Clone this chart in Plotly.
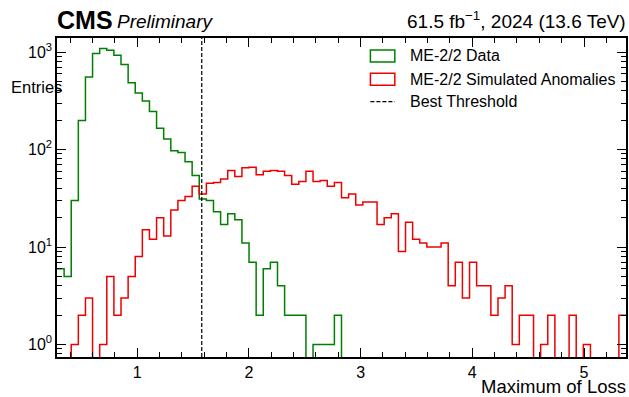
import numpy as np
import plotly.graph_objects as go

# ---- data -------------------------------------------------------------
X_MIN = 0.282
X_MAX = 5.376
N_BINS = 80
THRESHOLD = 1.578

data_counts = [6, 5, 30, 198, 555, 965, 1090, 1045, 925, 745,
               485, 381, 314, 246, 165, 128, 97, 93, 75, 54,
               31, 30, 23, 17, 22, 19, 11, 7, 2, 6,
               7, 4, 2, 2, 2, 0, 1, 1, 1, 2,
               0, 0, 0, 0, 0, 0, 0, 0, 0, 0,
               0, 0, 0, 0, 0, 0, 0, 0, 0, 0,
               0, 0, 0, 0, 0, 0, 0, 0, 0, 0,
               0, 0, 0, 0, 0, 0, 0, 0, 0, 0]

anomaly_counts = [0, 0, 1, 2, 3, 0, 1, 5, 2, 3,
                  5, 8, 15, 12, 20, 13, 24, 30, 33, 42,
                  35, 45, 46, 50, 61, 53, 65, 66, 55, 60,
                  61, 60, 54, 44, 47, 60, 47, 48, 42, 46,
                  32, 35, 27, 29, 29, 17, 20, 22, 9, 18,
                  12, 11, 10, 10, 11, 4, 7, 3, 7, 4,
                  4, 2, 3, 4, 1, 2, 2, 0, 1, 2,
                  0, 0, 2, 0, 1, 0, 0, 0, 0, 2]

series_names = ["ME-2/2 Data", "ME-2/2 Simulated Anomalies", "Best Threshold"]
x_tick_vals = [1, 2, 3, 4, 5]
y_tick_vals = [1, 10, 100, 1000]
y_tick_text = ["10<sup>0</sup>", "10<sup>1</sup>", "10<sup>2</sup>", "10<sup>3</sup>"]

# ---- figure -----------------------------------------------------------
W, H = 629, 397
L, R, T, B = 57, 1, 38, 40
pw, ph = W - L - R, H - T - B

def px2paper_x(px):
    return (px - L) / pw

def py2paper_y(py):
    return (H - B - py) / ph

edges = np.linspace(X_MIN, X_MAX, N_BINS + 1)
FLOOR = 1e-2  # empty bins drop below the axis

def step_trace(counts, color):
    vals = [c if c > 0 else FLOOR for c in counts]
    return go.Scatter(x=list(edges), y=vals + [vals[-1]], mode="lines",
                      line=dict(color=color, width=1.5, shape="hv"),
                      showlegend=False, hoverinfo="skip")

GREEN = "#008000"
RED = "#ee0000"

fig = go.Figure()
fig.add_trace(step_trace(data_counts, GREEN))
fig.add_trace(step_trace(anomaly_counts, RED))

FONT = "Liberation Sans, Arial, Helvetica, sans-serif"

minor_y = [m * 10 ** e for e in range(-1, 4) for m in range(2, 10)]

fig.update_layout(
    width=W, height=H,
    margin=dict(l=L, r=R, t=T, b=B),
    paper_bgcolor="white", plot_bgcolor="white",
    font=dict(family=FONT, color="black", size=16),
    xaxis=dict(range=[X_MIN, X_MAX], showgrid=False, zeroline=False,
               showline=True, linecolor="black", linewidth=1.5, mirror="allticks",
               ticks="inside", ticklen=9, tickwidth=1, tickcolor="black",
               tickmode="array", tickvals=x_tick_vals,
               tickfont=dict(size=16),
               minor=dict(ticks="inside", ticklen=5, tickwidth=1, tickcolor="black",
                          dtick=0.2, tick0=0, showgrid=False)),
    yaxis=dict(type="log", range=[-0.128, 3.144], showgrid=False, zeroline=False,
               showline=True, linecolor="black", linewidth=1.5, mirror="allticks",
               ticks="inside", ticklen=9, tickwidth=1, tickcolor="black",
               tickmode="array", tickvals=y_tick_vals, ticktext=y_tick_text,
               tickfont=dict(size=16),
               minor=dict(ticks="inside", ticklen=5, tickwidth=1, tickcolor="black",
                          tickmode="array", tickvals=minor_y, showgrid=False)),
    showlegend=False,
)

# threshold line
fig.add_shape(type="line", xref="x", yref="paper", x0=THRESHOLD, x1=THRESHOLD,
              y0=0, y1=1, line=dict(color="black", width=1.2, dash="4px,2px"))

# manual legend
lx0, lx1 = px2paper_x(371.5), px2paper_x(396)
fig.add_shape(type="rect", xref="paper", yref="paper", x0=lx0, x1=lx1,
              y0=py2paper_y(62), y1=py2paper_y(50), line=dict(color=GREEN, width=1.5))
fig.add_shape(type="rect", xref="paper", yref="paper", x0=lx0, x1=lx1,
              y0=py2paper_y(85.3), y1=py2paper_y(73.3), line=dict(color=RED, width=1.5))
fig.add_shape(type="line", xref="paper", yref="paper", x0=lx0, x1=lx1,
              y0=py2paper_y(101.7), y1=py2paper_y(101.7),
              line=dict(color="black", width=1.2, dash="4px,2px"))
for name, yc in zip(series_names, [56, 79.3, 101.7]):
    fig.add_annotation(xref="paper", yref="paper", x=px2paper_x(409), y=py2paper_y(yc),
                       text=name, showarrow=False, xanchor="left", yanchor="middle",
                       font=dict(size=16))

# header texts
fig.add_annotation(xref="paper", yref="paper", x=px2paper_x(55), y=py2paper_y(20),
                   text="<b>CMS</b>", showarrow=False, xanchor="left", yanchor="middle",
                   font=dict(size=25))
fig.add_annotation(xref="paper", yref="paper", x=px2paper_x(115), y=py2paper_y(21),
                   text="<i>Preliminary</i>", showarrow=False, xanchor="left", yanchor="middle",
                   font=dict(size=19))
fig.add_annotation(xref="paper", yref="paper", x=px2paper_x(630), y=py2paper_y(20),
                   text="61.5 fb<sup>\u22121</sup>, 2024 (13.6 TeV)", showarrow=False,
                   xanchor="right", yanchor="middle", font=dict(size=19))

# axis titles
fig.add_annotation(xref="paper", yref="paper", x=px2paper_x(630), y=py2paper_y(386),
                   text="Maximum of Loss", showarrow=False, xanchor="right", yanchor="middle",
                   font=dict(size=18.5))
fig.add_annotation(xref="paper", yref="paper", x=px2paper_x(9), y=py2paper_y(87),
                   text="Entries", showarrow=False,
                   xanchor="left", yanchor="middle", font=dict(size=16.5))

fig.write_html("out.html",
               config={"displayModeBar": False},
               post_script="document.body.style.margin='0';"
                           "document.body.style.overflow='hidden';")
